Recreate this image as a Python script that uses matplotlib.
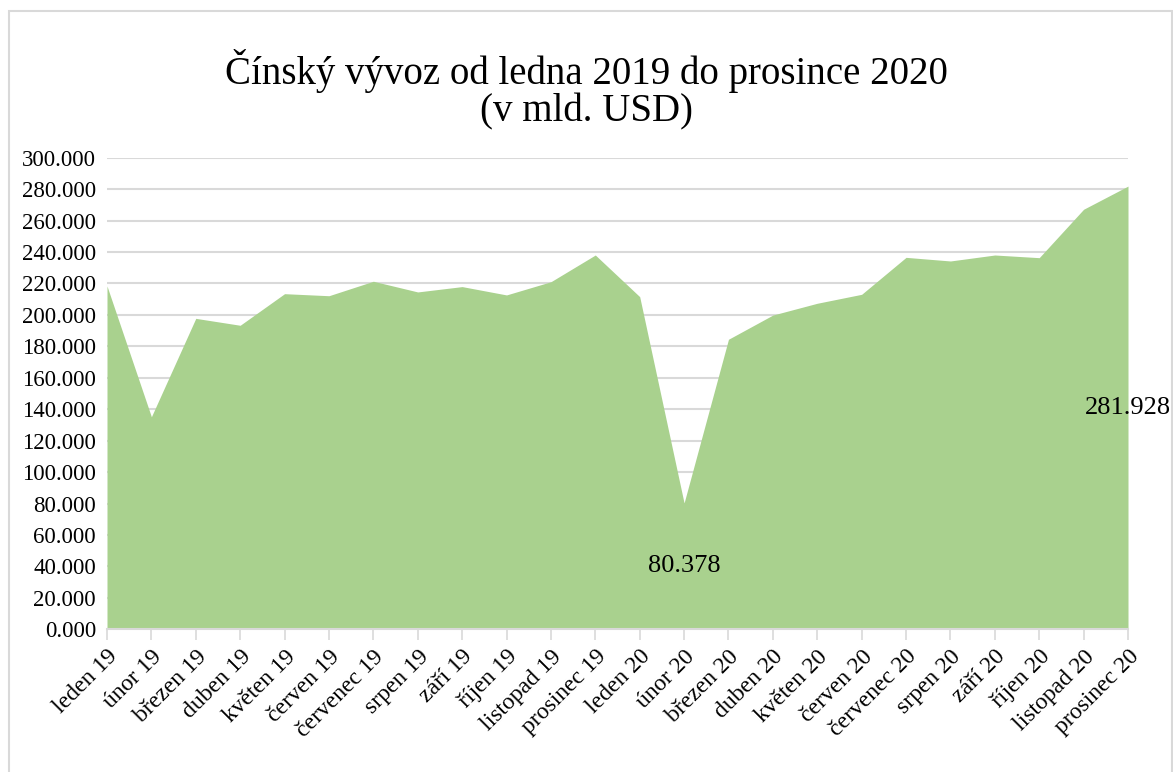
import matplotlib
matplotlib.use("Agg")
import matplotlib.pyplot as plt
from matplotlib.patches import Rectangle
from matplotlib.ticker import MultipleLocator, FuncFormatter

months = ["leden", "únor", "březen", "duben", "květen", "červen", "červenec",
          "srpen", "září", "říjen", "listopad", "prosinec"]
labels = [f"{m} {y}" for y in ("19", "20") for m in months]
exports = [218.4, 135.2, 197.8, 193.4, 213.5, 212.2, 221.4, 214.6, 218.0, 212.7,
           221.1, 238.1, 211.6, 80.378, 184.5, 199.9, 207.4, 213.1, 236.6, 234.3,
           238.1, 236.4, 267.2, 281.928]
labelled = [13, 23]

plt.rcParams["font.family"] = ["Liberation Serif", "DejaVu Serif"]

W, H = 1173, 772
fig = plt.figure(figsize=(W / 100, H / 100), dpi=100)
ax = fig.add_axes([107 / W, 1 - 629.3 / H, (1128 - 107) / W, (629.3 - 157.7) / H])

x = list(range(len(exports)))
ax.fill_between(x, exports, 0, color="#a9d18e", linewidth=0, zorder=2)

# data labels sit in the middle of the area, like Excel does
for i in labelled:
    ax.text(x[i], exports[i] / 2, f"{exports[i]:.3f}", ha="center", va="center",
            fontsize=19, color="black", zorder=3)

ax.set_xlim(0, len(exports) - 1)
ax.set_ylim(0, 300)
ax.yaxis.set_major_locator(MultipleLocator(20))
ax.yaxis.set_major_formatter(FuncFormatter(lambda v, p: f"{v:.3f}"))
ax.grid(axis="y", color="#d9d9d9", linewidth=1.5, zorder=1)
ax.set_axisbelow(True)

ax.set_xticks(x)
ax.set_xticklabels(labels, rotation=45, ha="right", rotation_mode="anchor")
ax.tick_params(axis="x", length=8, width=1.2, color="#d9d9d9", labelsize=17, pad=4)
ax.tick_params(axis="y", length=0, labelsize=16.5, pad=8)

for s in ("top", "right", "left"):
    ax.spines[s].set_visible(False)
ax.spines["bottom"].set_color("#d9d9d9")
ax.spines["bottom"].set_linewidth(1.5)

fig.text(0.5, 1 - 90 / H, "Čínský vývoz od ledna 2019 do prosince 2020\n(v mld. USD)",
         ha="center", va="center", fontsize=28, linespacing=1.0)

fig.patches.append(Rectangle((9 / W, -0.02), (1172 - 9) / W, 1.02 - 11 / H,
                             transform=fig.transFigure, fill=False,
                             edgecolor="#d9d9d9", linewidth=1.5))

fig.savefig("out.png", dpi=100)
